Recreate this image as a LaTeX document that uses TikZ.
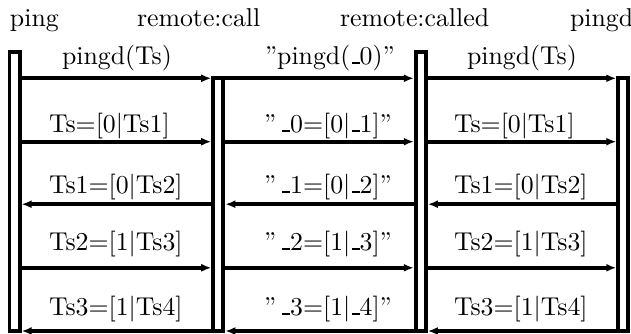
\documentclass[tikz,border=0pt]{standalone}
\usetikzlibrary{arrows.meta}
\newdimen\px \px=0.3876pt
\newcommand\usc{\leavevmode\kern.06em\vbox{\hrule width.3em height 0.8pt}}
\newcommand\oq{''\kern.18em}
\begin{document}
\begin{tikzpicture}[x=\px,y=-\px, line width=1.55pt,
  bar/.style={draw, fill=white, rectangle, inner sep=0pt, minimum width=10*\px},
  arr/.style={-{Latex[length=3.9pt,width=3.1pt]}},
  lab/.style={anchor=base west, inner sep=0pt}]
\useasboundingbox (0,0) rectangle (631,333);
% header
\node[lab] (h1) at (8,26) {ping};
\node[lab] (h2) at (135,26) {remote:call};
\node[lab] (h3) at (338,26) {remote:called};
\node[lab] (h4) at (568,26) {pingd};
% bars
\node[bar, minimum height=279*\px] (b1) at (14.5,191.5) {};
\node[bar, minimum height=252.7*\px] (b2) at (218.3,204.65) {};
\node[bar, minimum height=279*\px] (b3) at (420.8,191.5) {};
\node[bar, minimum height=252.7*\px] (b4) at (623.3,204.65) {};
% rows
\coordinate (r1) at (0,78.3);
\coordinate (r2) at (0,141.7);
\coordinate (r3) at (0,204.2);
\coordinate (r4) at (0,267.8);
\coordinate (r5) at (0,331);
% arrows
\foreach \r in {r1,r2,r4}{
  \draw[arr] (b1.east |- \r) -- (b2.west |- \r);
  \draw[arr] (b2.east |- \r) -- (b3.west |- \r);
  \draw[arr] (b3.east |- \r) -- (b4.west |- \r);
}
\foreach \r in {r3,r5}{
  \draw[arr] (b2.west |- \r) -- (b1.east |- \r);
  \draw[arr] (b3.west |- \r) -- (b2.east |- \r);
  \draw[arr] (b4.west |- \r) -- (b3.east |- \r);
}
% labels
\node[lab] (l11) at (60,64) {pingd(Ts)};
\node[lab] (l12) at (263,64) {''pingd(\usc 0)''};
\node[lab] (l13) at (465,64) {pingd(Ts)};
\node[lab] (l21) at (47,132) {Ts=[0$|$Ts1]};
\node[lab] (l22) at (262,132) {\oq\usc 0=[0$|$\usc 1]''};
\node[lab] (l23) at (452,132) {Ts=[0$|$Ts1]};
\node[lab] (l31) at (47,193) {Ts1=[0$|$Ts2]};
\node[lab] (l32) at (262,193) {\oq\usc 1=[0$|$\usc 2]''};
\node[lab] (l33) at (452,193) {Ts1=[0$|$Ts2]};
\node[lab] (l41) at (47,250) {Ts2=[1$|$Ts3]};
\node[lab] (l42) at (262,250) {\oq\usc 2=[1$|$\usc 3]''};
\node[lab] (l43) at (452,250) {Ts2=[1$|$Ts3]};
\node[lab] (l51) at (47,315) {Ts3=[1$|$Ts4]};
\node[lab] (l52) at (262,315) {\oq\usc 3=[1$|$\usc 4]''};
\node[lab] (l53) at (452,315) {Ts3=[1$|$Ts4]};
\end{tikzpicture}
\end{document}
